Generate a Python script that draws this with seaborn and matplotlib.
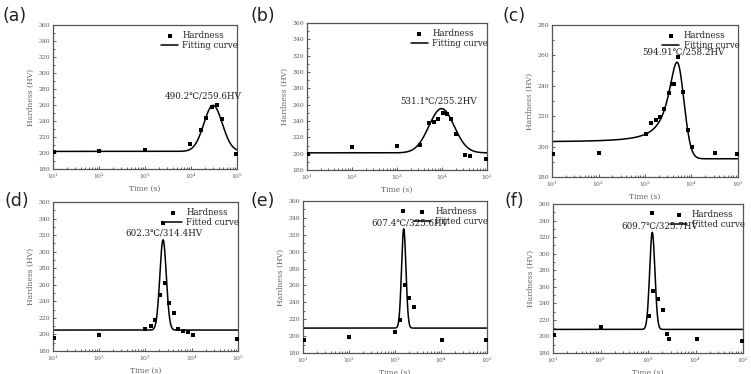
import numpy as np
import pandas as pd
import matplotlib
matplotlib.use("Agg")
import matplotlib.pyplot as plt
import seaborn as sns
from matplotlib.ticker import LogLocator, MultipleLocator

# measured hardness points (time in s, hardness in HV)
a_time = [10.5, 100, 1000, 9300, 16600, 21000, 29000, 37000, 47000, 97000]
a_hard = [201, 202, 204, 211, 229, 244, 257, 260, 243, 199]
b_time = [10.5, 100, 1000, 3200, 5200, 6500, 8300, 10500, 13000, 16000, 20000, 32000, 41000, 97000]
b_hard = [199, 208, 209.5, 211, 237, 239, 242, 250, 249, 242, 224, 198, 197, 194]
c_time = [10.5, 100, 1070, 1320, 1700, 2100, 2570, 3240, 3900, 4250, 5250, 6600, 8300, 10500, 32000, 97000]
c_hard = [195, 195.6, 208.6, 215.2, 217.6, 219.4, 224.9, 235.5, 241, 241, 258.8, 236, 210.8, 200, 196, 195]
d_time = [10.5, 100, 1000, 1300, 1600, 2100, 2450, 2700, 3300, 4100, 5100, 6600, 8100, 10500, 97000]
d_hard = [196, 199, 207, 209.7, 217, 248, 334.7, 262, 237.8, 226, 207, 204, 202.5, 199, 194.5]
e_time = [10.5, 100, 1000, 1300, 1500, 1650, 2050, 2550, 10500, 97000]
e_hard = [195.4, 199.3, 205.2, 219.4, 347.8, 261, 245.4, 235, 195.4, 195.4]
f_time = [10.5, 100, 1050, 1230, 1300, 1600, 2050, 2550, 2750, 10500, 97000]
f_hard = [201.3, 211.3, 224.6, 349, 254.7, 244.7, 231.4, 203.3, 197.3, 196.5, 194.9]

# fitted peak parameters: baseline, peak, log10(t) at peak, width (decades)
a_fit = [202, 259.6, 4.48, 0.20]
b_fit = [201, 255.2, 3.99, 0.28]
# (c) is asymmetric: left baseline, right baseline, peak, centre, left width, right width
c_fit = [203, 192, 255.5, 3.69, 0.225, 0.146]
d_fit = [205.3, 314.4, 3.38, 0.070]
e_fit = [209.5, 327.0, 3.19, 0.048]
f_fit = [208.5, 325.7, 3.09, 0.055]

labels = ["(a)", "(b)", "(c)", "(d)", "(e)", "(f)"]
curve_names = ["Fitting curve"] * 3 + ["Fitted curve"] * 3
peak_text = ["490.2\u2103/259.6HV", "531.1\u2103/255.2HV", "594.91\u2103/258.2HV",
             "602.3\u2103/314.4HV", "607.4\u2103/325.6HV", "609.7\u2103/325.7HV"]
text_pos = [(18000, 271), (8500, 265), (6600, 262.5), (2500, 322.6), (2100, 334.4), (1780, 333.5)]

sns.set_style("ticks")
plt.rcParams["font.family"] = ["DejaVu Serif", "DejaVu Sans"]

W, H = 751, 374
fig = plt.figure(figsize=(W / 100, H / 100), dpi=100)

# axes boxes in pixels: left, right, top, bottom
boxes = [(53, 237, 25, 169), (307, 487, 23, 170), (552, 738, 25, 177),
         (53, 238, 202, 351), (303, 487, 201, 353), (553, 743, 204, 353)]
label_xy = [(3, 16), (250, 16), (502, 16), (4, 201), (250, 201), (505, 201)]

times = [a_time, b_time, c_time, d_time, e_time, f_time]
hards = [a_hard, b_hard, c_hard, d_hard, e_hard, f_hard]
fits = [a_fit, b_fit, c_fit, d_fit, e_fit, f_fit]

t_curve = np.logspace(1, 5, 600)
lt = np.log10(t_curve)


def fit_curve(i):
    p = fits[i]
    if i == 2:
        left = p[0] + (p[2] - p[0]) / (1 + ((lt - p[3]) / p[4]) ** 2)
        right = p[1] + (p[2] - p[1]) * np.exp(-(lt - p[3]) ** 2 / (2 * p[5] ** 2))
        return np.where(lt < p[3], left, right)
    return p[0] + (p[1] - p[0]) * np.exp(-(lt - p[2]) ** 2 / (2 * p[3] ** 2))


for i in range(6):
    l, r, t, b = boxes[i]
    ax = fig.add_axes([l / W, 1 - b / H, (r - l) / W, (b - t) / H])
    pts = pd.DataFrame({"Time": times[i], "Hardness": hards[i]})
    crv = pd.DataFrame({"Time": t_curve, "Hardness": fit_curve(i)})
    sns.scatterplot(data=pts, x="Time", y="Hardness", marker="s", color="black",
                    s=12, linewidth=0, label="Hardness", ax=ax, zorder=3)
    sns.lineplot(data=crv, x="Time", y="Hardness", color="black", lw=1.1,
                 label=curve_names[i], ax=ax)
    ax.set_xscale("log")
    ax.set_xlim(10, 1e5)
    if i == 2:
        ax.set_ylim(180, 280)
    else:
        ax.set_ylim(180, 360)
    ax.yaxis.set_major_locator(MultipleLocator(20))
    ax.yaxis.set_minor_locator(MultipleLocator(10))
    ax.xaxis.set_major_locator(LogLocator(base=10, numticks=10))
    ax.xaxis.set_minor_locator(LogLocator(base=10, subs=np.arange(2, 10), numticks=10))
    ax.tick_params(which="both", direction="in", labelsize=4.4, labelcolor="#555555",
                   color="#444444", width=0.6, pad=2)
    ax.tick_params(which="major", length=2.5)
    ax.tick_params(which="minor", length=1.5)
    for s in ax.spines.values():
        s.set_color("#555555")
        s.set_linewidth(0.9)
    ax.set_xlabel("Time (s)", fontsize=5.5, color="#666666", labelpad=3)
    ax.set_ylabel("Hardness (HV)", fontsize=5.5, color="#666666", labelpad=3)
    ax.legend(loc="upper right", bbox_to_anchor=(1.04, 1.0), frameon=False,
              fontsize=6.2, handlelength=2.0, handletextpad=0.5,
              labelspacing=0.15, borderaxespad=0.3, markerscale=1.0)
    ax.text(text_pos[i][0], text_pos[i][1], peak_text[i], fontsize=6.3,
            ha="center", va="center", color="#222222")
    fig.text(label_xy[i][0] / W, 1 - label_xy[i][1] / H, labels[i],
             fontsize=12.5, family="DejaVu Sans", color="#222222",
             ha="left", va="center")

fig.savefig("out.png", dpi=100)
